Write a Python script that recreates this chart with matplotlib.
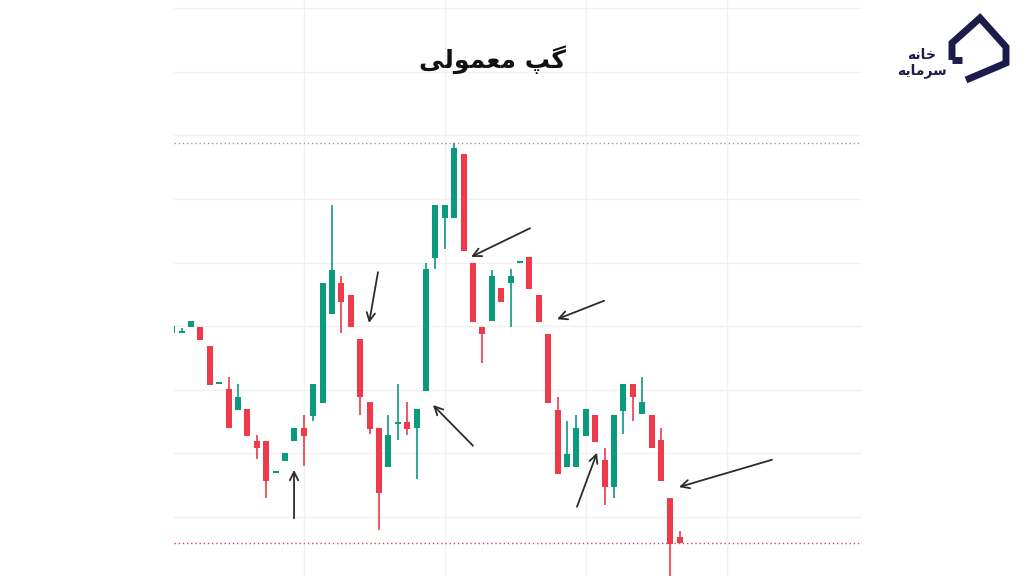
import matplotlib
matplotlib.use("Agg")
import matplotlib.pyplot as plt
import numpy as np

# ---- data (candles by index) ----
idx = list(range(-2, 53))
opens = [128.9, 128.9, 129.9, 129.9, 126.9, 120.9, 120.1, 116.8, 117.0, 112.0, 112.0, 106.9,
         108.8, 112.0, 114.0, 115.9, 117.9, 131.9, 136.8, 134.9, 128.0, 118.1, 114.0, 107.9,
         114.6, 114.9, 114.0, 119.8, 140.7, 147.0, 147.0, 157.1, 139.9, 129.9, 130.8, 136.0,
         136.8, 139.9, 140.9, 134.9, 128.8, 116.8, 107.9, 107.9, 112.7, 116.0, 109.0, 104.7,
         116.7, 120.9, 116.2, 116.0, 112.1, 103.0, 96.9]
highs = [130.0, 129.7, 130.8, 129.9, 126.9, 120.9, 122.0, 120.9, 117.0, 112.9, 112.0, 106.9,
         110.1, 114.0, 116.0, 120.9, 136.8, 149.1, 137.9, 134.9, 128.0, 118.1, 114.0, 116.0,
         120.9, 118.1, 114.0, 139.9, 149.1, 149.1, 158.8, 157.1, 139.9, 129.9, 138.8, 136.0,
         139.0, 139.9, 140.9, 134.9, 128.8, 118.9, 115.1, 116.0, 117.0, 116.0, 110.9, 116.0,
         120.9, 120.9, 122.0, 116.0, 114.0, 103.0, 97.8]
lows = [128.9, 128.9, 129.9, 127.8, 120.8, 120.9, 114.0, 116.8, 112.7, 109.1, 103.0, 106.9,
        108.8, 112.0, 108.0, 115.1, 117.9, 131.9, 128.9, 129.9, 116.0, 113.1, 98.0, 107.9,
        112.1, 112.9, 106.0, 119.8, 139.0, 142.1, 147.0, 141.8, 130.7, 124.2, 130.8, 133.8,
        129.9, 139.9, 135.8, 130.7, 117.9, 106.8, 107.9, 107.9, 112.7, 111.8, 101.9, 103.0,
        113.1, 115.1, 116.2, 110.8, 105.7, 89.3, 95.9]
closes = [130.0, 128.9, 130.8, 127.8, 120.8, 120.9, 114.0, 118.9, 112.7, 110.8, 105.7, 106.9,
          110.1, 114.0, 112.7, 120.9, 136.8, 138.8, 133.8, 129.9, 118.9, 113.8, 103.8, 112.9,
          114.9, 113.8, 117.0, 139.0, 149.1, 149.1, 158.0, 141.8, 130.7, 128.8, 137.9, 133.8,
          137.9, 139.9, 135.8, 130.7, 117.9, 106.8, 109.9, 114.0, 117.0, 111.8, 104.7, 116.0,
          120.9, 118.9, 118.1, 110.8, 105.7, 95.8, 95.9]

# arrows: (tail_x, tail_y, head_x, head_y)
arrows = [(10.96, 99.8, 10.96, 107.4),
          (19.89, 138.5, 18.94, 130.5),
          (30.0, 111.2, 25.74, 117.6),
          (36.06, 145.4, 29.79, 140.9),
          (43.94, 134.0, 38.94, 131.1),
          (41.06, 101.6, 43.19, 110.1),
          (61.81, 109.0, 51.91, 104.7)]

title_text = "\uFBFD\uFEDF\uFEEE\uFEE4\uFECC\uFEE3 \uFB57\uFB94"   # گپ معمولی (shaped, visual order)
logo_line1 = "\uFEEA\uFEE7\uFE8E\uFEA7"                            # خانه
logo_line2 = "\uFEEA\uFBFE\uFE8E\uFEE3\uFEAE\uFEB3"                # سرمایه

GREEN = "#0c9a7d"
RED = "#ee3a4a"

fig = plt.figure(figsize=(10.24, 5.76), dpi=100)
fig.patch.set_facecolor("white")
ax = fig.add_axes([174 / 1024, 0, (862 - 174) / 1024, 1])
ax.set_xlim(-1.81, 71.38)
ax.set_ylim(90.72, 181.29)
for s in ax.spines.values():
    s.set_visible(False)
ax.set_xticks([])
ax.set_yticks([])

# grid
for gy in range(100, 190, 10):
    ax.axhline(gy, color="#f1f1f1", lw=1.0, zorder=0)
for gx in [12, 27, 42, 57]:
    ax.axvline(gx, color="#f1f1f1", lw=1.0, zorder=0)

# high / last lines
ax.axhline(max(highs), color="#9a9a9a", lw=1.0, ls=(0, (1, 2)), zorder=1)
ax.axhline(closes[-1], color=RED, lw=1.0, ls=(0, (1, 2)), zorder=1)

o = np.array(opens); c = np.array(closes); h = np.array(highs); l = np.array(lows)
x = np.array(idx)
up = c >= o
cols = np.where(up, GREEN, RED)
ax.vlines(x, l, h, colors=cols, lw=1.2, zorder=2)
bottom = np.minimum(o, c)
height = np.maximum(np.abs(c - o), 0.3)
ax.bar(x, height, bottom=bottom, width=0.64, color=cols, zorder=3, linewidth=0)

for tx, ty, hx, hy in arrows:
    ax.annotate("", xy=(hx, hy), xytext=(tx, ty),
                arrowprops=dict(arrowstyle="->,head_length=0.6,head_width=0.3",
                                color="#2b2b2b", lw=1.3, shrinkA=0, shrinkB=0), zorder=5)

# title
fig.text(492 / 1024, 1 - 60 / 576, title_text, ha="center", va="center",
         fontsize=18, fontweight="bold", color="#111111", family=["DejaVu Sans"])

# logo
NAVY = "#1d1b4c"
lax = fig.add_axes([0, 0, 1, 1], facecolor="none")
lax.set_xlim(0, 1024); lax.set_ylim(576, 0); lax.axis("off")
lax.plot([952, 952, 980, 1006, 1006, 966], [60, 43, 18, 47, 63, 80],
         color=NAVY, lw=5, solid_joinstyle="miter", solid_capstyle="butt")
lax.plot([952, 962], [60, 60], color=NAVY, lw=5, solid_capstyle="butt")
lax.text(922, 55, logo_line1, ha="center", va="center", fontsize=10, color=NAVY,
         fontweight="bold", family=["DejaVu Sans"])
lax.text(922, 71, logo_line2, ha="center", va="center", fontsize=10, color=NAVY,
         fontweight="bold", family=["DejaVu Sans"])

fig.savefig("out.png", dpi=100, facecolor="white")
